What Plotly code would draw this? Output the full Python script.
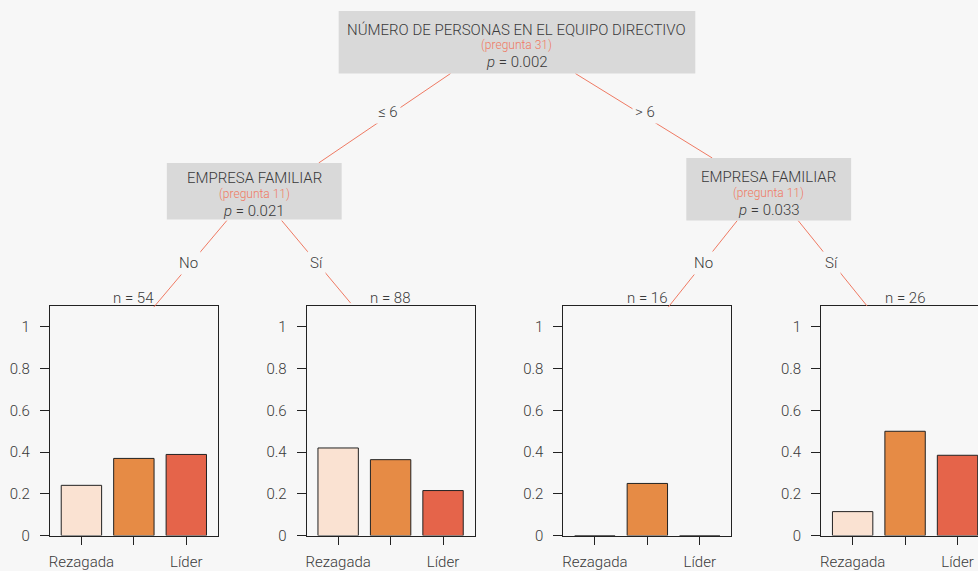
import plotly.graph_objects as go

# ---- data -------------------------------------------------------------
categories = ["Rezagada", "Seguidora", "Líder"]
tick_labels = ["Rezagada", "", "Líder"]
y_ticks = [0, 0.2, 0.4, 0.6, 0.8, 1]
y_tick_labels = ["0", "0.2", "0.4", "0.6", "0.8", "1"]

node_n = [54, 88, 16, 26]
prop_node1 = [0.241, 0.370, 0.389]
prop_node2 = [0.420, 0.364, 0.216]
prop_node3 = [0.000, 0.250, 0.000]
prop_node4 = [0.115, 0.500, 0.385]
node_props = [prop_node1, prop_node2, prop_node3, prop_node4]

split_titles = ["NÚMERO DE PERSONAS EN EL EQUIPO DIRECTIVO", "EMPRESA FAMILIAR", "EMPRESA FAMILIAR"]
split_questions = ["(pregunta 31)", "(pregunta 11)", "(pregunta 11)"]
split_pvalues = ["0.002", "0.021", "0.033"]
edge_labels = ["≤ 6", "> 6", "No", "Sí", "No", "Sí"]

# ---- style ------------------------------------------------------------
W, H = 978, 571
HY = 558.5  # vertical px scale used for paper-coordinate placement
BG = "#F7F7F7"
TXT = "#3a3a3a"
EDGE = "#EF7A63"
BOX = "#D9D9D9"
FRAME = "#222222"
bar_colors = ["#FAE2D2", "#E68B45", "#E5644A"]
FONT = "Roboto"
WEIGHT = 300


def fx(px):
    return px / W


def fy(py):
    return 1 - py / HY


def font(size, color=TXT):
    return dict(family=FONT, size=size, color=color, weight=WEIGHT)


fig = go.Figure()

# terminal panels: frame left edges (px), frame width, px per category step
panel_left = [49, 306, 563, 821]
panel_w = 168
step = 52.5
y_bottom, y_top = 539, 308

for i, (left, props) in enumerate(zip(panel_left, node_props)):
    k = "" if i == 0 else str(i + 1)
    right = min(left + panel_w, W)
    fig.add_trace(go.Bar(
        x=list(range(len(categories))), y=props,
        customdata=categories,
        marker=dict(color=bar_colors, line=dict(color=FRAME, width=1)),
        width=0.77,
        xaxis="x" + k, yaxis="y" + k,
        hovertemplate="%{customdata}: %{y:.3f}<extra></extra>",
    ))
    fig.update_layout(**{
        "xaxis" + k: dict(
            domain=[fx(left), fx(right)],
            range=[-0.6, -0.6 + (right - left) / step],
            tickvals=list(range(len(categories))), ticktext=tick_labels,
            ticks="outside", ticklen=8, tickcolor=FRAME, tickwidth=1,
            showline=True, linecolor=FRAME, linewidth=1, mirror=True,
            showgrid=False, zeroline=False, anchor="y" + k,
            tickfont=font(15),
            ticklabelstandoff=4, fixedrange=True,
        ),
        "yaxis" + k: dict(
            domain=[fy(y_bottom), fy(y_top)],
            range=[0, 1.1],
            tickvals=y_ticks, ticktext=y_tick_labels,
            ticks="outside", ticklen=9, tickcolor=FRAME, tickwidth=1,
            showline=True, linecolor=FRAME, linewidth=1, mirror=(i < 3),
            showgrid=False, zeroline=False, anchor="x" + k,
            tickfont=font(15),
            ticklabelstandoff=7, fixedrange=True,
        ),
    })
    fig.add_annotation(
        x=fx(left + panel_w / 2), y=fy(300), xref="paper", yref="paper",
        text=f"n = {node_n[i]}", showarrow=False, font=font(15),
        xanchor="center", yanchor="middle",
    )

# tree edges (px endpoints)
edges = [
    ((450, 74), (318, 164)),
    ((575, 74), (712, 159)),
    ((226, 222), (153, 309)),
    ((281, 222), (350, 305)),
    ((737, 222), (668, 309)),
    ((798, 222), (867, 308)),
]
shapes = []
for (x0, y0), (x1, y1) in edges:
    shapes.append(dict(type="line", xref="paper", yref="paper",
                       x0=fx(x0), y0=fy(y0), x1=fx(x1), y1=fy(y1),
                       line=dict(color=EDGE, width=1)))

# inner node boxes (px)
boxes = [(338, 11, 695, 74), (166, 164, 341, 221), (686, 159, 851, 222)]
for x0, y0, x1, y1 in boxes:
    shapes.append(dict(type="rect", xref="paper", yref="paper",
                       x0=fx(x0), y0=fy(y0), x1=fx(x1), y1=fy(y1),
                       fillcolor=BOX, line=dict(width=0)))
fig.update_layout(shapes=shapes)

# inner node texts
text_rows = [(30, 45, 62), (179, 195, 212), (178, 194, 211)]
for (x0, y0, x1, y1), (r1, r2, r3), title, q, p in zip(
        boxes, text_rows, split_titles, split_questions, split_pvalues):
    cx = fx((x0 + x1) / 2)
    fig.add_annotation(x=cx, y=fy(r1), xref="paper", yref="paper", text=title,
                       showarrow=False, font=font(15),
                       xanchor="center", yanchor="middle")
    fig.add_annotation(x=cx, y=fy(r2), xref="paper", yref="paper", text=q,
                       showarrow=False, font=font(12, EDGE),
                       xanchor="center", yanchor="middle")
    fig.add_annotation(x=cx, y=fy(r3), xref="paper", yref="paper",
                       text=f"<i>p</i> = {p}",
                       showarrow=False, font=font(15),
                       xanchor="center", yanchor="middle")

# edge labels
edge_label_pos = [(387, 113), (645, 113), (188, 265), (316, 265), (703, 265), (831, 265)]
for (x, y), lab in zip(edge_label_pos, edge_labels):
    fig.add_annotation(x=fx(x), y=fy(y), xref="paper", yref="paper", text=lab,
                       showarrow=False, bgcolor=BG, borderpad=2, font=font(15),
                       xanchor="center", yanchor="middle")

fig.update_layout(
    width=W, height=H, autosize=False,
    margin=dict(l=0, r=0, t=0, b=0),
    paper_bgcolor=BG, plot_bgcolor=BG,
    showlegend=False, bargap=0.23,
    font=dict(family=FONT, color=TXT),
)

fig.write_html("out.html")
